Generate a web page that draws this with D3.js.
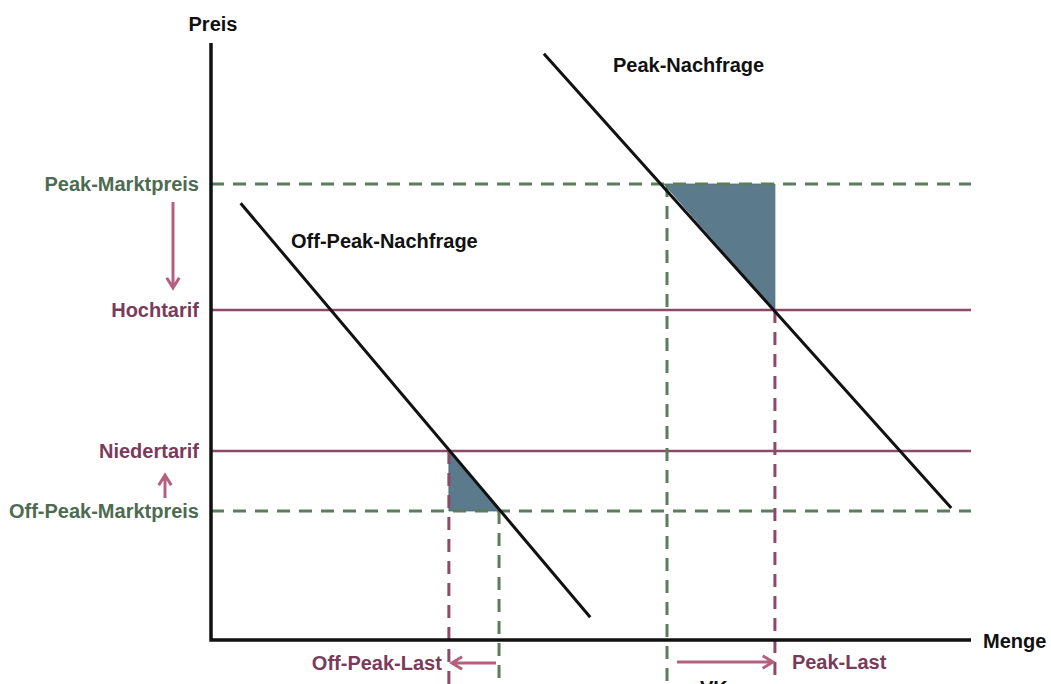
<!DOCTYPE html>
<html>
<head>
<meta charset="utf-8">
<script src="https://cdn.jsdelivr.net/npm/d3@7"></script>
<style>
  body { margin: 0; background: #fff; }
  text { font-family: "Liberation Sans", Arial, sans-serif; font-weight: bold; font-size: 20px; }
</style>
</head>
<body>
<div id="chart"></div>
<script>
const colors = {
    "axis": "#111", "demand": "#111",
    "green": "#5b7d5e", "greenText": "#4e6b52",
    "maroon": "#8b4a67", "maroonText": "#7a3b5a",
    "arrow": "#b5607f", "fill": "#5b7a8b"
}

let width = 1051, height = 684;

// price levels (0..100 price units)
const priceNames = ["Peak-Marktpreis", "Hochtarif", "Niedertarif", "Off-Peak-Marktpreis"];
const priceValues = [76, 55, 31.5, 21.5];
const priceKind = ["market", "tarif", "tarif", "market"];

// quantities where the dashed drop lines sit (0..100 quantity units)
const qNames = ["Off-Peak-Last", "Off-Peak-Markt", "Peak-Markt", "Peak-Last"];
const qValues = [31.3, 37.9, 60.0, 74.2];
const qFromPrice = [31.5, 21.5, 76, 55];
const qKind = ["tarif", "market", "market", "tarif"];

// demand curves, end points [menge, preis]
const offPeakDemand = [[3.9, 72.8], [49.9, 3.8]];
const peakDemand = [[43.8, 97.7], [97.4, 22.0]];

// welfare triangles
const peakTriangle = [[59.6, 76], [74.2, 76], [74.2, 55]];
const offPeakTriangle = [[31.3, 31.5], [31.3, 21.5], [37.9, 21.5]];

let x = d3.scaleLinear().domain([0, 100]).range([211, 971]);
let y = d3.scaleLinear().domain([0, 100]).range([640, 40]);

const line = d3.line().x(d => x(d[0])).y(d => y(d[1]));

const chart = () => {
    let svg = d3.select("#chart")
        .append("svg")
        .attr("width", width)
        .attr("height", height);

    let g_fill = svg.append("g"),
        g_grid = svg.append("g"),
        g_axis = svg.append("g"),
        g_demand = svg.append("g"),
        g_arrow = svg.append("g"),
        g_text = svg.append("g");

    // triangles
    g_fill.selectAll("path")
        .data([peakTriangle, offPeakTriangle])
        .enter().append("path")
        .attr("d", d => line(d) + "Z")
        .attr("fill", colors.fill)
        .attr("stroke", "#4f6d7d")
        .attr("stroke-width", 0.8);

    // horizontal price lines
    g_grid.selectAll(".hline")
        .data(priceValues)
        .enter().append("line").attr("class", "hline")
        .attr("x1", x(0)).attr("x2", x(100))
        .attr("y1", d => y(d)).attr("y2", d => y(d))
        .attr("stroke", (d, i) => priceKind[i] === "market" ? colors.green : colors.maroon)
        .attr("stroke-width", (d, i) => priceKind[i] === "market" ? 3 : 2.5)
        .attr("stroke-dasharray", (d, i) => priceKind[i] === "market" ? "13,9" : null);

    // vertical drop lines
    g_grid.selectAll(".vline")
        .data(qValues)
        .enter().append("line").attr("class", "vline")
        .attr("x1", d => x(d)).attr("x2", d => x(d))
        .attr("y1", (d, i) => y(qFromPrice[i])).attr("y2", y(-10))
        .attr("stroke", (d, i) => qKind[i] === "market" ? colors.green : colors.maroon)
        .attr("stroke-width", 3)
        .attr("stroke-dasharray", "13,9");

    // axes
    g_axis.append("path")
        .attr("d", `M${x(0)},${y(99.5)}L${x(0)},${y(0)}L${x(100)},${y(0)}`)
        .attr("fill", "none")
        .attr("stroke", colors.axis)
        .attr("stroke-width", 3.5);

    // demand curves
    g_demand.selectAll("path")
        .data([offPeakDemand, peakDemand])
        .enter().append("path")
        .attr("d", line)
        .attr("fill", "none")
        .attr("stroke", colors.demand)
        .attr("stroke-width", 3);

    // arrows (shaft + open head)
    const arrow = (x1, y1, x2, y2) => {
        let a = Math.atan2(y2 - y1, x2 - x1), h = 12, w = 0.55;
        g_arrow.append("path")
            .attr("d", `M${x1},${y1}L${x2},${y2}` +
                `M${x2 - h * Math.cos(a - w)},${y2 - h * Math.sin(a - w)}L${x2},${y2}` +
                `L${x2 - h * Math.cos(a + w)},${y2 - h * Math.sin(a + w)}`)
            .attr("fill", "none")
            .attr("stroke", colors.arrow)
            .attr("stroke-width", 3);
    }
    arrow(173, y(priceValues[0]) + 18, 173, y(priceValues[1]) - 22);
    arrow(165, y(priceValues[3]) - 13, 165, y(priceValues[2]) + 24);
    arrow(x(qValues[1]) - 3, 663, x(qValues[0]) + 3, 663);
    arrow(x(qValues[2]) + 10, 662, x(qValues[3]) - 2, 662);

    // price labels
    g_text.selectAll(".plabel")
        .data(priceNames)
        .enter().append("text").attr("class", "plabel")
        .attr("x", 199)
        .attr("y", (d, i) => y(priceValues[i]) + 7)
        .attr("text-anchor", "end")
        .attr("fill", (d, i) => priceKind[i] === "market" ? colors.greenText : colors.maroonText)
        .text(d => d);

    const label = (t, px, py, col, anchor) => g_text.append("text")
        .attr("x", px).attr("y", py)
        .attr("text-anchor", anchor || "start")
        .attr("fill", col).text(t);

    label("Preis", x(0) + 2, 31, "#111", "middle");
    label("Menge", 983, 648, "#111");
    label("Peak-Nachfrage", 613, 72, "#111");
    label("Off-Peak-Nachfrage", 291, 248, "#111");
    label(qNames[0], x(qValues[0]) - 7, 670, colors.maroonText, "end");
    label(qNames[3], x(qValues[3]) + 17, 669, colors.maroonText);
    label("VK", 700, 695, "#111");

    return svg.node();
}

chart();
</script>
</body>
</html>
